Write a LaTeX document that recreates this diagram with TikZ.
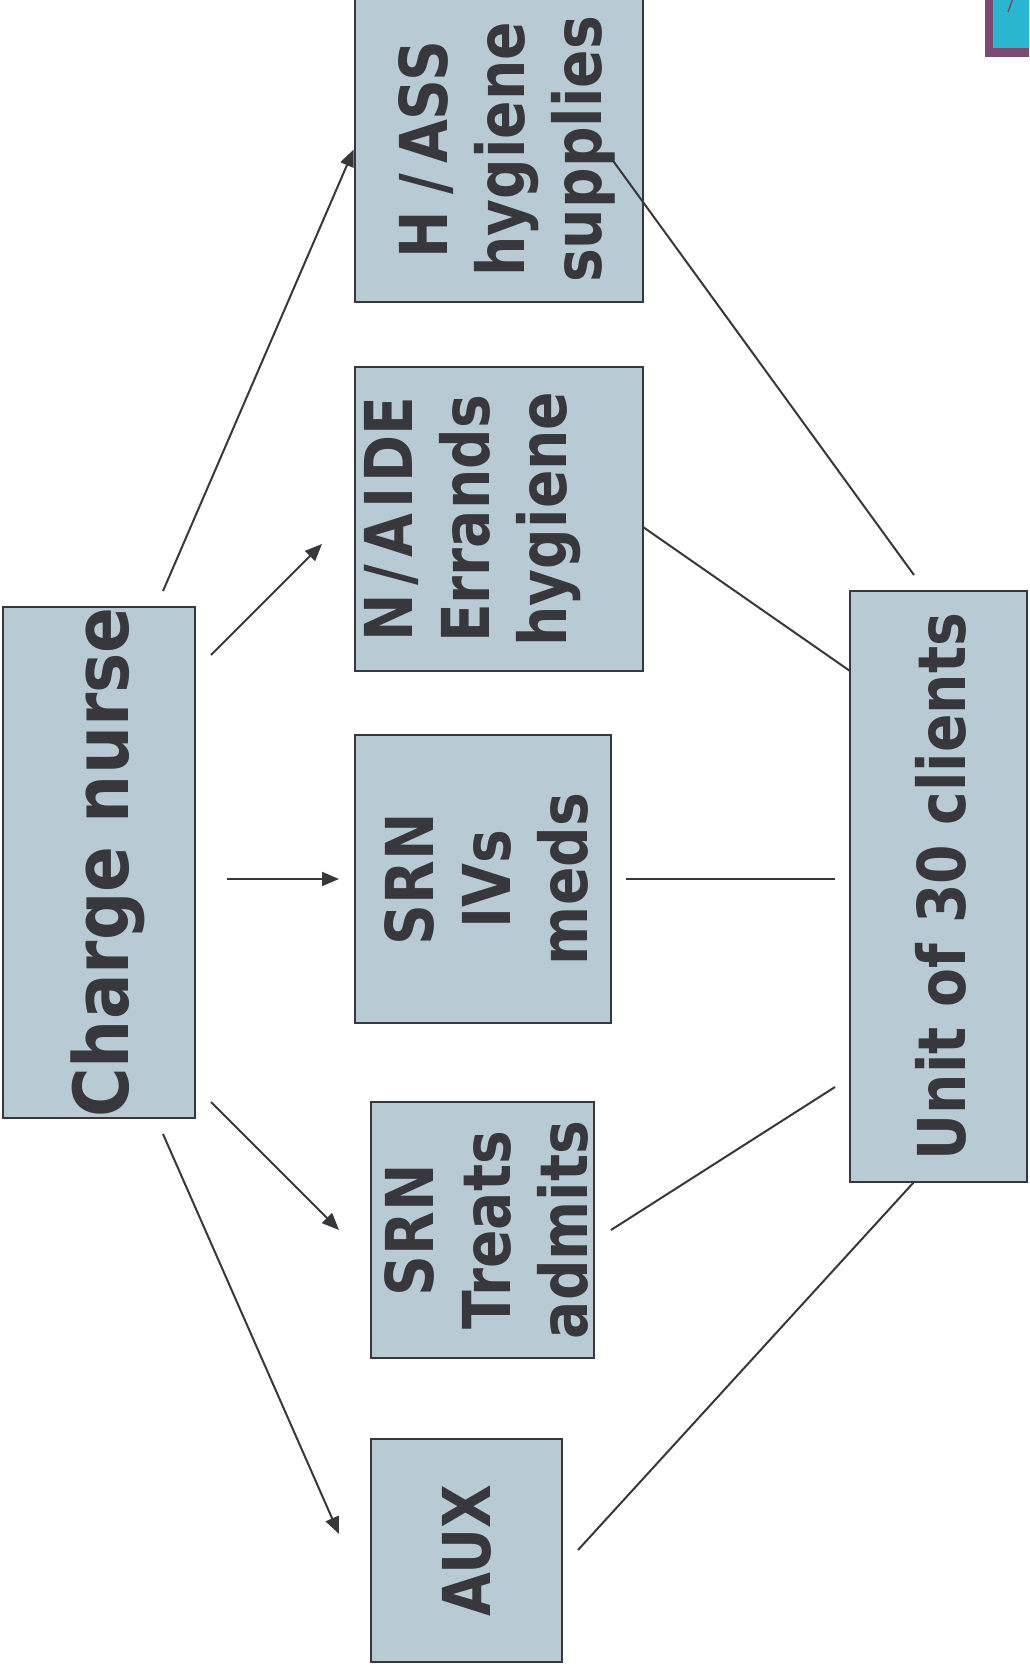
\documentclass[tikz,border=0pt]{standalone}
\usepackage{fontspec}
\newfontfamily\labelfont[FakeStretch=0.86]{DejaVu Sans}
\newfontfamily\titlefont[FakeStretch=0.89]{DejaVu Sans}
\usetikzlibrary{arrows.meta}
\definecolor{boxfill}{HTML}{B8CBD5}
\definecolor{ink}{HTML}{38373C}
\definecolor{plum}{HTML}{7B4A70}
\definecolor{cornercyan}{HTML}{29B6CF}
\begin{document}
\begin{tikzpicture}[x=1pt,y=-1pt,
  box/.style={rectangle, draw=ink, line width=2.6pt, fill=boxfill, inner sep=0pt},
  boxtext/.style={rotate=90, align=center, text=ink, inner sep=0pt,
    font=\labelfont\bfseries\fontsize{66}{77}\selectfont},
  bigtext/.style={boxtext, font=\titlefont\bfseries\fontsize{76}{88}\selectfont},
  conn/.style={draw=ink, line width=2pt},
  arrow/.style={conn, -{Triangle[length=17pt,width=14pt]}}]
\useasboundingbox (0,0) rectangle (1029,1670);

% corner ornament, cut off by the page edge
\begin{scope}
  \clip (0,0) rectangle (1029,1670);
  \fill[plum] (985,-5) rectangle (1040,57);
  \fill[cornercyan] (993,-5) rectangle (1040,48);
  \draw[plum, line width=1.5pt] (1013,-2) -- (1008,12);
\end{scope}

% boxes
\node[box, minimum width=192pt, minimum height=511pt] (charge) at (99,862.5) {};
\node[box, minimum width=288pt, minimum height=305pt] (hass) at (499,149.5) {};
\node[box, minimum width=288pt, minimum height=304pt] (naide) at (499,519) {};
\node[box, minimum width=256pt, minimum height=288pt] (srnivs) at (483,879) {};
\node[box, minimum width=223pt, minimum height=256pt] (srntreats) at (482.5,1230) {};
\node[box, minimum width=191pt, minimum height=223pt] (aux) at (466.5,1550.5) {};
\node[box, minimum width=177pt, minimum height=591pt] (unit) at (938.5,886.5) {};

% box labels, reading upwards
\node[bigtext, anchor=base] (charge-t) at ([xshift=29pt]charge.center) {Charge nurse};
\node[boxtext] (hass-t) at ([xshift=8pt]hass.center)
  {H\kern16pt/\kern10pt ASS\\hygiene\\supplies};
\node[boxtext] (naide-t) at ([xshift=-26pt]naide.center)
  {N\kern8pt/\kern7pt A\kern5pt I\kern5pt DE\\Errands\\hygiene};
\node[boxtext] (srnivs-t) at ([xshift=3pt]srnivs.center) {SRN\\IVs\\meds};
\node[boxtext] (srntreats-t) at ([xshift=3.5pt]srntreats.center) {SRN\\Treats\\admits};
\node[boxtext, anchor=base] (aux-t) at ([xshift=24pt]aux.center) {AUX};
\node[boxtext, anchor=base] (unit-t) at ([xshift=27pt]unit.center) {Unit of 30 clients};

% connector end points
\coordinate (a1s) at (163,591);
\coordinate (a2s) at (211,655);  \coordinate (a2e) at (322,544);
\coordinate (a3s) at (227,879);  \coordinate (a3e) at (339,879);
\coordinate (a4s) at (211,1102); \coordinate (a4e) at (339,1230);
\coordinate (a5s) at (163,1134); \coordinate (a5e) at (339,1534);

\coordinate (l1s) at (611,158);  \coordinate (l1e) at (914,575);
\coordinate (l2s) at (643,527);  \coordinate (l2e) at (850,671);
\coordinate (l3s) at (626,879);  \coordinate (l3e) at (835,879);
\coordinate (l4s) at (611,1230); \coordinate (l4e) at (835,1087);
\coordinate (l5s) at (578,1550); \coordinate (l5e) at (914,1182);

% charge nurse delegates
\draw[arrow] (a1s) -- (hass.west);
\draw[arrow] (a2s) -- (a2e);
\draw[arrow] (a3s) -- (a3e);
\draw[arrow] (a4s) -- (a4e);
\draw[arrow] (a5s) -- (a5e);

% staff serve the unit
\draw[conn] (l1s) -- (l1e);
\draw[conn] (l2s) -- (l2e);
\draw[conn] (l3s) -- (l3e);
\draw[conn] (l4s) -- (l4e);
\draw[conn] (l5s) -- (l5e);
\end{tikzpicture}
\end{document}
